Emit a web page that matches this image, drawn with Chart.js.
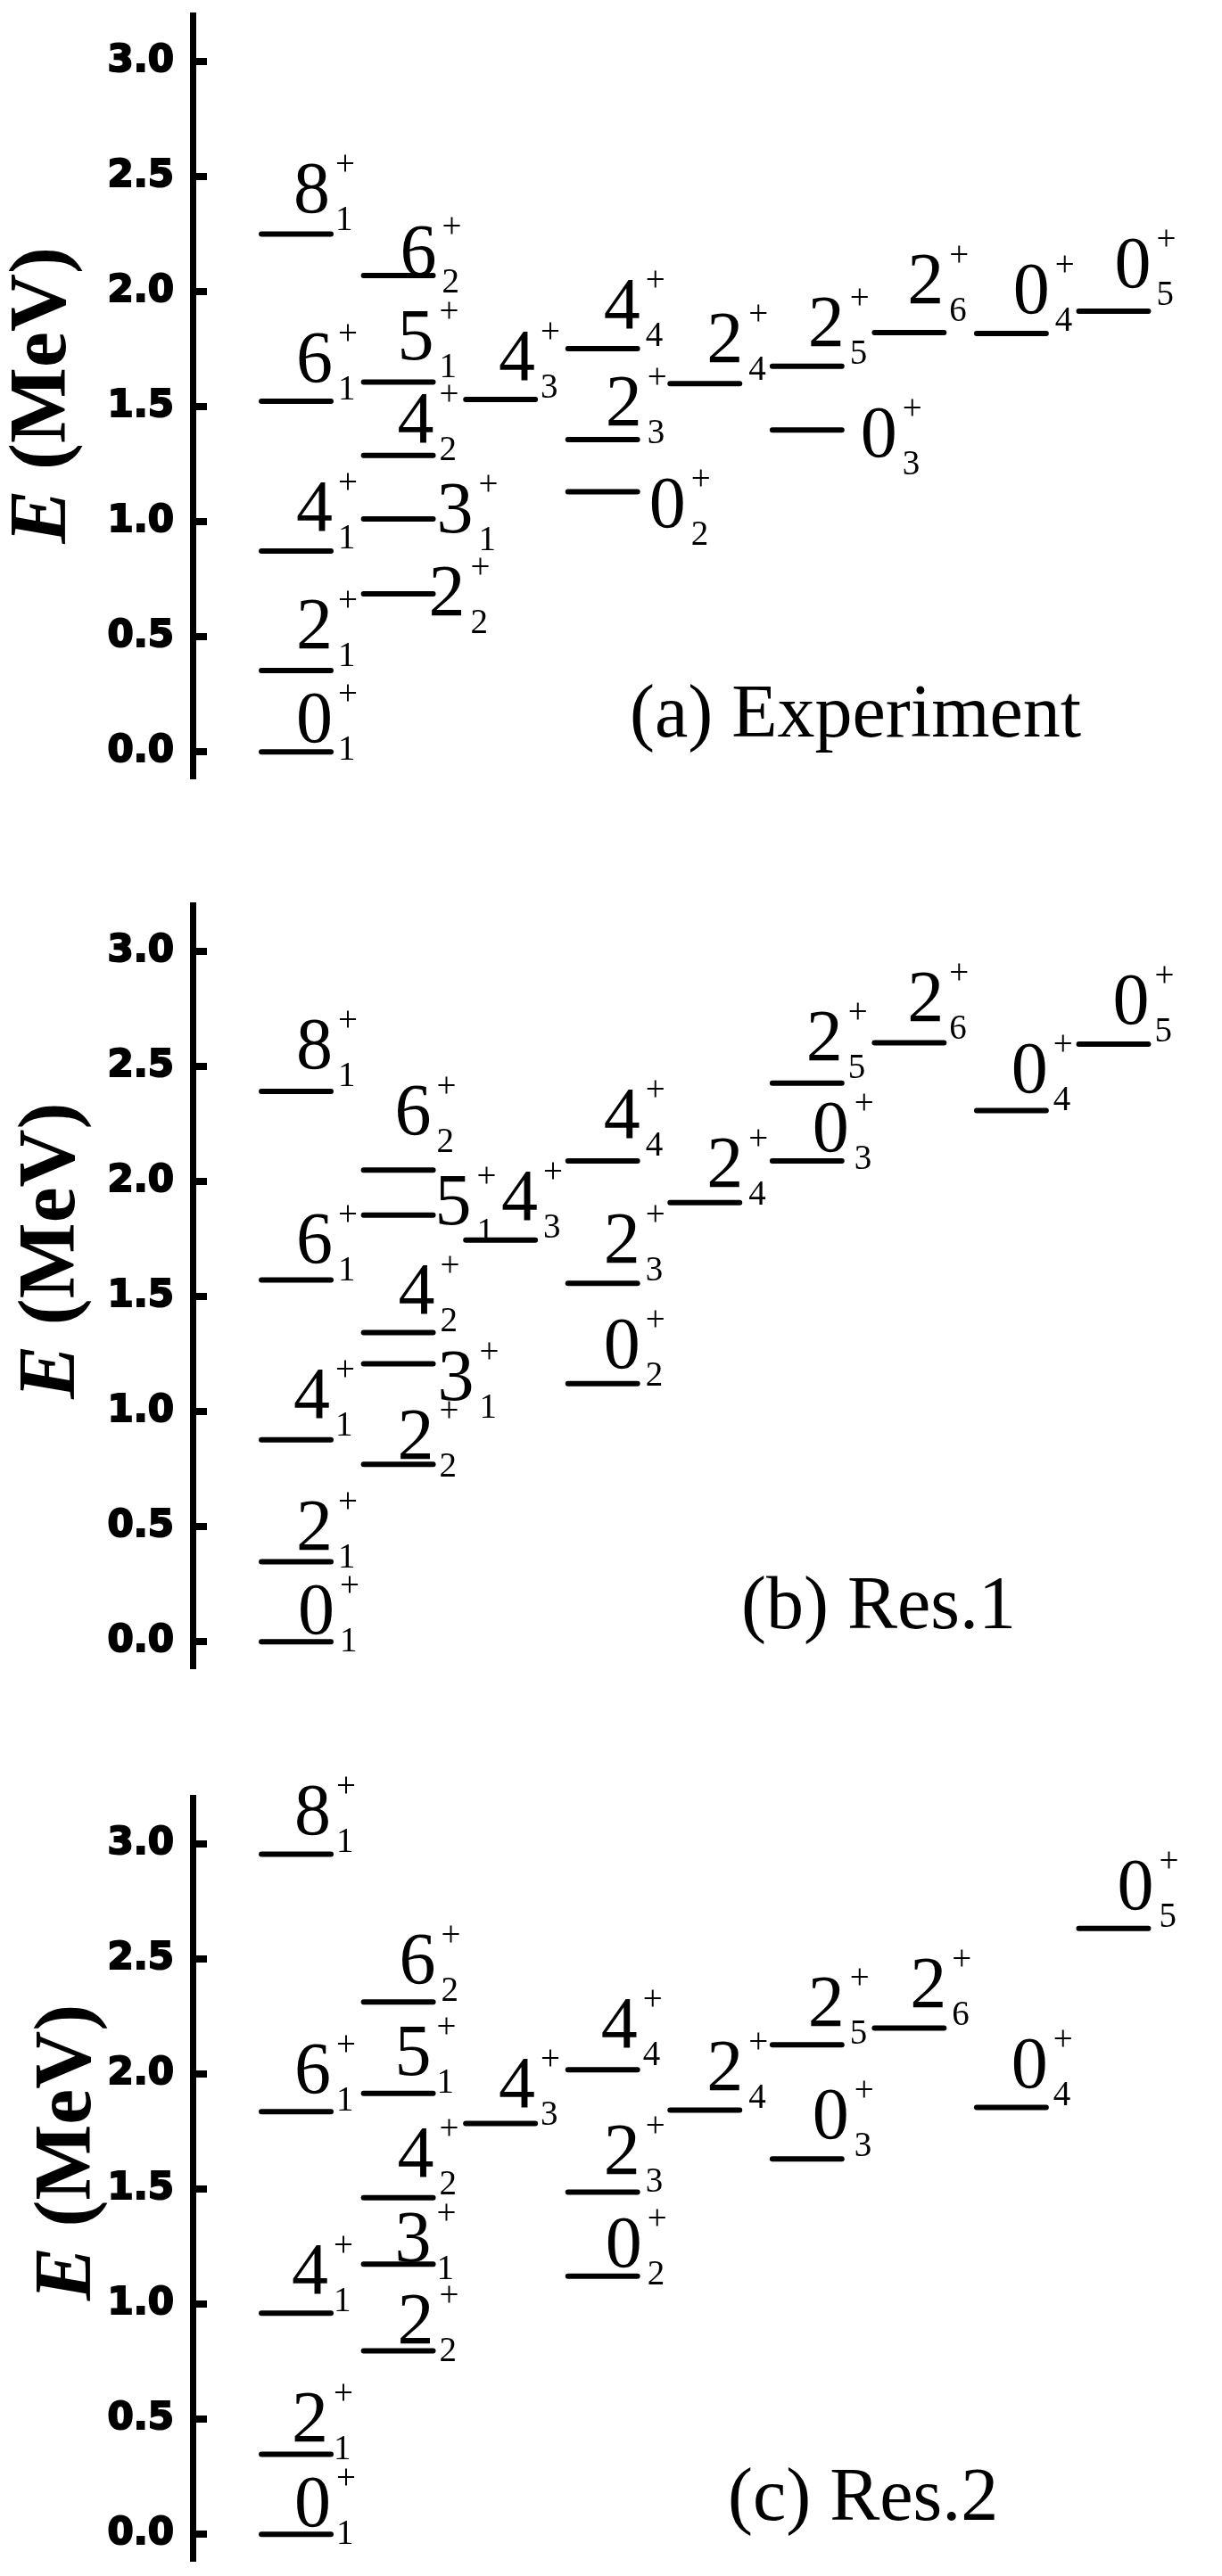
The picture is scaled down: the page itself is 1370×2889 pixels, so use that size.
<!DOCTYPE html>
<html>
<head>
<meta charset="utf-8">
<title>Energieniveaus</title>
<script src="https://cdn.jsdelivr.net/npm/chart.js@4.4.1/dist/chart.umd.min.js"></script>
<style>
  html, body { margin: 0; padding: 0; background: #fff; }
  body { width: 1370px; height: 2889px; position: relative; overflow: hidden; }
  .panel { position: absolute; left: 0; width: 1370px; height: 950px; }
</style>
</head>
<body>
<div class="panel" style="top:0px"><canvas id="chartA" width="1370" height="950"></canvas></div>
<div class="panel" style="top:940px"><canvas id="chartB" width="1370" height="950"></canvas></div>
<div class="panel" style="top:1940px"><canvas id="chartC" width="1370" height="950"></canvas></div>
<script>
// Zustände: Spin J, Index n und Spalte im Diagramm
const spins   = [0, 2, 4, 6, 8, 2, 3, 4, 5, 6, 4, 0, 2, 4, 2, 0, 2, 2, 0, 0];
const indices = [1, 1, 1, 1, 1, 2, 1, 2, 1, 2, 3, 2, 3, 4, 4, 3, 5, 6, 4, 5];
const columns = [1, 1, 1, 1, 1, 2, 2, 2, 2, 2, 3, 4, 4, 4, 5, 6, 6, 7, 8, 9];

// Energien in MeV (gleiche Reihenfolge wie oben)
const energyExp  = [0, 0.353, 0.873, 1.524, 2.251, 0.687, 1.012, 1.289, 1.607, 2.071, 1.532, 1.131, 1.357, 1.753, 1.601, 1.399, 1.676, 1.823, 1.819, 1.916];
const energyRes1 = [0, 0.347, 0.878, 1.573, 2.392, 0.771, 1.208, 1.344, 1.855, 2.050, 1.746, 1.122, 1.558, 2.090, 1.909, 2.090, 2.428, 2.604, 2.309, 2.598];
const energyRes2 = [0, 0.347, 0.961, 1.837, 2.957, 0.797, 1.174, 1.463, 1.917, 2.314, 1.786, 1.122, 1.487, 2.019, 1.844, 1.632, 2.128, 2.201, 1.856, 2.634];

// Achsenbeschriftung
const yTicks = [0, 0.5, 1.0, 1.5, 2.0, 2.5, 3.0];
const yTickLabels = ['0.0', '0.5', '1.0', '1.5', '2.0', '2.5', '3.0'];

// Lage der Beschriftungen relativ zum Linienende (Pixel)
const labelDxA = [-1, -1, -1, -1, -4, 33, 42, -2, -2, 1, -3, 51, 2, 0, 1, 59, 0, -3, 1, 0];
const labelDyA = [-11, -25, -23, -22, -24, 24, 15, -15, -26, -1, -22, 40, -16, -23, -24, 30, -23, -33, -23, -27];
const labelDxB = [1, -1, -4, -1, -1, -2, 43, -1, 40, -5, 0, 0, 0, 0, 1, 5, -2, -3, -1, -2];
const labelDyB = [-9, -14, -25, -19, -26, -6, 40, -21, 10, -40, -23, -18, -23, -26, -18, -11, -26, -24, -21, -23];
const labelDxC = [-3, -6, -6, -3, -3, -2, -5, -2, -5, 0, -3, 2, 0, -3, 1, 5, 0, 0, -1, 3];
const labelDyC = [-9, -15, -22, -21, -22, -9, -3, -24, -21, -21, -18, -11, -21, -25, -22, -23, -21, -23, -22, -22];

const halfWidth = 0.34;   // halbe Linienbreite in Spalteneinheiten
const capRadius = 3;
const serif = '"Liberation Serif", "Times New Roman", serif';

// ------------------------------------------
// Plugin: Zustandsnamen, Untertitel, y-Titel
// ------------------------------------------
const levelLabelPlugin = {
    id: 'levelLabels',
    afterDraw(chart, args, opts) {
        const ctx = chart.ctx;
        const xs = chart.scales.x;
        const ys = chart.scales.y;
        ctx.save();
        ctx.fillStyle = '#000';

        opts.energies.forEach((e, i) => {
            const xr = xs.getPixelForValue(columns[i] + halfWidth) + capRadius;
            const yl = ys.getPixelForValue(e);
            const bx = xr + opts.dx[i];
            const by = yl + opts.dy[i];
            ctx.textBaseline = 'alphabetic';
            ctx.font = '82px ' + serif;
            ctx.textAlign = 'right';
            ctx.fillText(String(spins[i]), bx, by);
            ctx.font = '39px ' + serif;
            ctx.textAlign = 'left';
            ctx.fillText('+', bx + 6, by - 42);
            ctx.fillText(String(indices[i]), bx + 6, by + 20);
        });

        // Untertitel, z.B. (a) Experiment
        ctx.font = '84px ' + serif;
        ctx.textAlign = 'left';
        ctx.textBaseline = 'alphabetic';
        ctx.fillText(opts.caption, opts.captionX, ys.getPixelForValue(opts.captionY));

        // y-Achsentitel: E kursiv, Rest fett
        const f1 = 'italic bold 90px ' + serif;
        const f2 = 'bold 90px ' + serif;
        ctx.font = f1;
        const w1 = ctx.measureText('E').width;
        ctx.font = f2;
        const w2 = ctx.measureText(' (MeV)').width;
        ctx.translate(opts.titleX, ys.getPixelForValue(opts.titleCenter));
        ctx.rotate(-Math.PI / 2);
        ctx.textBaseline = 'middle';
        ctx.textAlign = 'left';
        const start = -(w1 + w2) / 2;
        ctx.font = f1;
        ctx.fillText('E', start, 0);
        ctx.font = f2;
        ctx.fillText(' (MeV)', start + w1, 0);
        ctx.restore();
    }
};

function makeLevelChart(canvasId, energies, dx, dy, panel) {
    // Jede Linie ist ein eigener Datensatz mit zwei Punkten
    const datasets = energies.map((e, i) => ({
        data: [
            { x: columns[i] - halfWidth, y: e },
            { x: columns[i] + halfWidth, y: e }
        ],
        showLine: true,
        borderColor: '#000',
        borderWidth: 6,
        borderCapStyle: 'round',
        pointRadius: 0,
        pointHoverRadius: 0,
        clip: false
    }));

    return new Chart(document.getElementById(canvasId), {
        type: 'scatter',
        data: { datasets: datasets },
        options: {
            responsive: false,
            animation: false,
            devicePixelRatio: 1,
            events: [],
            layout: { padding: { left: 0, right: 0, top: panel.padTop, bottom: panel.padBottom } },
            plugins: {
                legend: { display: false },
                tooltip: { enabled: false },
                levelLabels: {
                    energies: energies, dx: dx, dy: dy,
                    caption: panel.caption, captionX: panel.captionX, captionY: panel.captionY,
                    titleX: panel.titleX, titleCenter: panel.titleCenter
                }
            },
            scales: {
                x: { type: 'linear', display: false, min: -0.013, max: 10.061 },
                y: {
                    type: 'linear',
                    min: -0.103,
                    max: 3.2,
                    afterBuildTicks: s => { s.ticks = yTicks.map(v => ({ value: v })); },
                    afterFit: s => { s.width = 216; s.paddingTop = 0; s.paddingBottom = 0; },
                    ticks: {
                        padding: 37,
                        color: '#000',
                        textStrokeColor: '#000',
                        textStrokeWidth: 2,
                        font: { family: '"DejaVu Sans", sans-serif', size: 42, weight: 'bold' },
                        callback: (v) => yTickLabels[yTicks.indexOf(v)]
                    },
                    grid: {
                        display: true,
                        drawOnChartArea: false,
                        drawTicks: true,
                        tickLength: -16,
                        lineWidth: 8,
                        color: '#000'
                    },
                    border: { display: true, width: 7, color: '#000' }
                }
            }
        },
        plugins: [levelLabelPlugin]
    });
}

makeLevelChart('chartA', energyExp, labelDxA, labelDyA,
    { padTop: 17.7, padBottom: 80.3, caption: '(a) Experiment', captionX: 706, captionY: 0.066, titleX: 50, titleCenter: 1.55 });
makeLevelChart('chartB', energyRes1, labelDxB, labelDyB,
    { padTop: 75.7, padBottom: 22.3, caption: '(b) Res.1', captionX: 831, captionY: 0.057, titleX: 60, titleCenter: 1.70 });
makeLevelChart('chartC', energyRes2, labelDxC, labelDyC,
    { padTop: 76.7, padBottom: 21.3, caption: '(c) Res.2', captionX: 816, captionY: 0.063, titleX: 78, titleCenter: 1.66 });
</script>
</body>
</html>
